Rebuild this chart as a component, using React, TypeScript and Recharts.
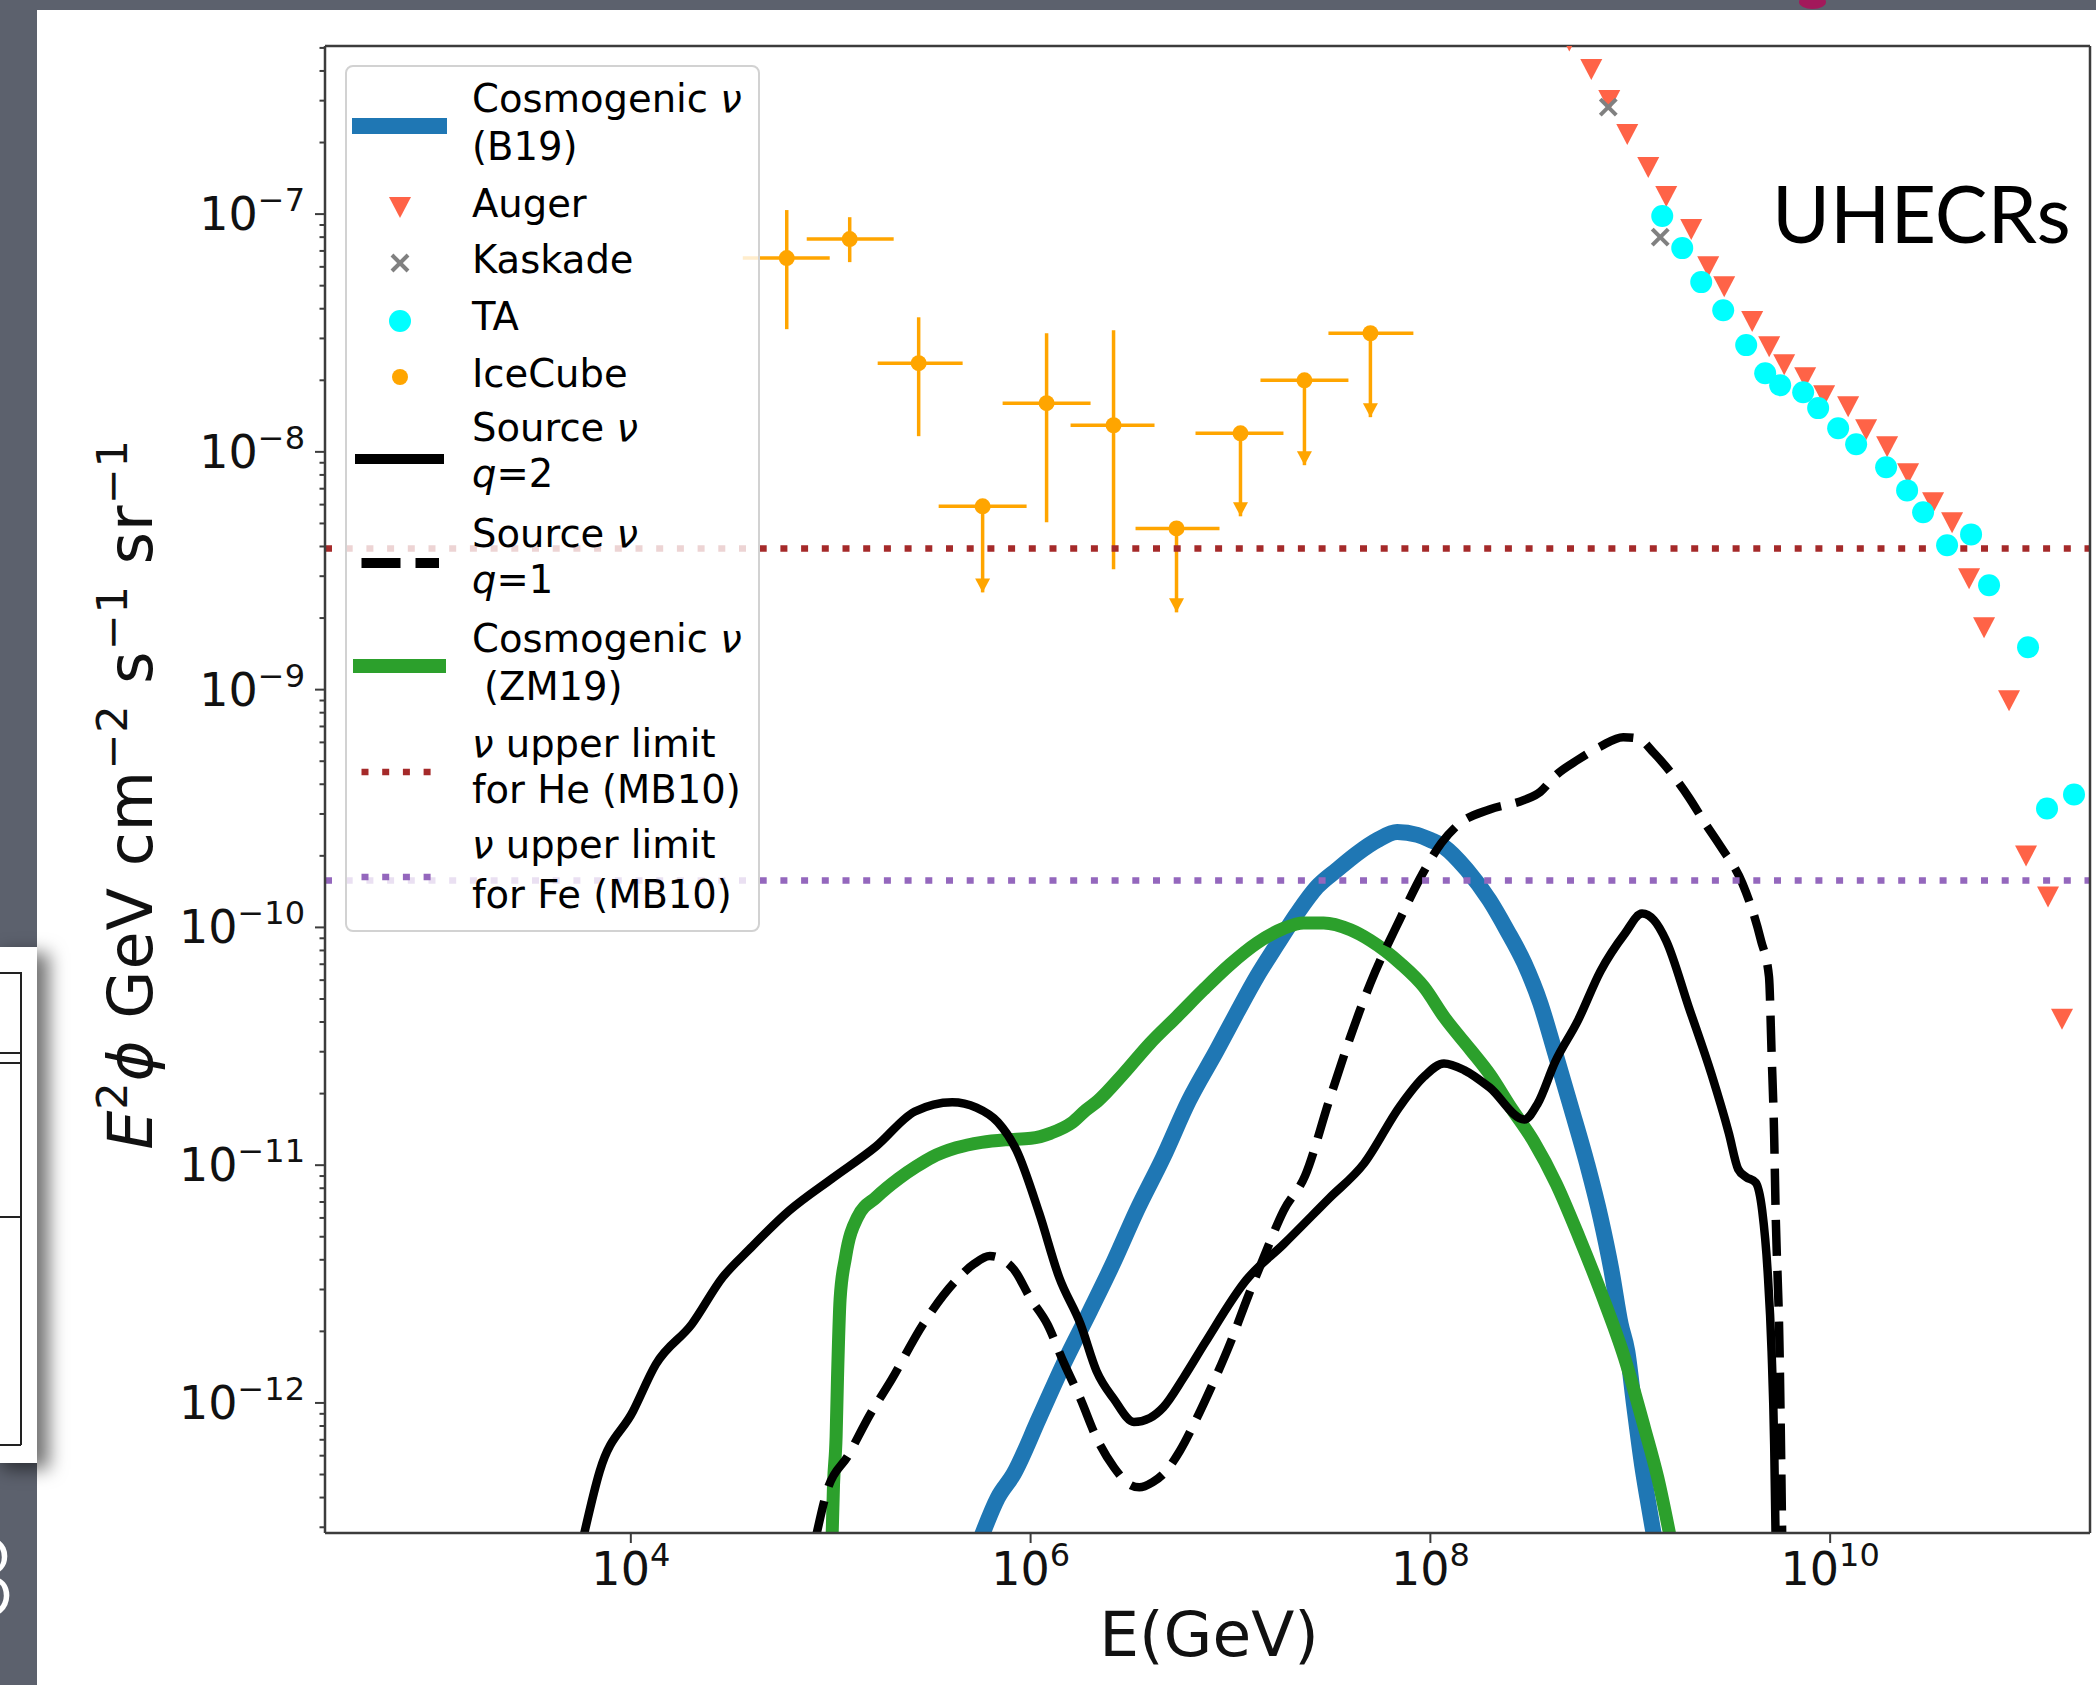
import React from "react";
import {
  ComposedChart,
  Line,
  Scatter,
  XAxis,
  YAxis,
  ErrorBar,
  ReferenceLine,
  Legend,
} from "recharts";

const FONT = "'DejaVu Sans', 'Liberation Sans', sans-serif";
const AXIS = "#3c3c3c";

// every value is a log10: x = log10(E / GeV), y = log10(E^2 phi / GeV cm^-2 s^-1 sr^-1)
const X_DOMAIN: [number, number] = [2.47, 11.3];
const Y_DOMAIN: [number, number] = [-12.547, -6.293];
const xTicks = [4, 6, 8, 10];
const yDecades = [-13, -12, -11, -10, -9, -8, -7];

const heLimit = -8.406; // nu upper limit for He (MB10)
const feLimit = -9.803; // nu upper limit for Fe (MB10)

const B19 = "#1f77b4";
const ZM19 = "#2ca02c";
const HE = "#a52a2a";
const FE = "#9467bd";
const AUGER = "#ff6347";
const TA = "#00ffff";
const ICECUBE = "#ffa500";
const KASKADE = "#808080";

// Cosmogenic nu (B19)
const cosmogenicB19: [number, number][] = [
  [5.755, -12.56], [5.835, -12.4], [5.915, -12.299], [6.043, -12.063], [6.17, -11.827],
  [6.297, -11.613], [6.417, -11.405], [6.531, -11.191], [6.664, -10.966], [6.791, -10.73],
  [6.932, -10.516], [7.032, -10.359], [7.132, -10.207], [7.233, -10.072], [7.333, -9.942],
  [7.433, -9.83], [7.534, -9.757], [7.634, -9.689], [7.734, -9.633], [7.834, -9.599],
  [7.935, -9.611], [8.002, -9.633], [8.068, -9.661], [8.182, -9.757], [8.296, -9.886],
  [8.382, -10.01], [8.47, -10.15], [8.55, -10.319], [8.624, -10.527], [8.704, -10.758],
  [8.784, -10.994], [8.851, -11.219], [8.905, -11.438], [8.952, -11.669], [8.985, -11.782],
  [9.019, -12.007], [9.059, -12.26], [9.086, -12.4], [9.119, -12.56],
];

// Cosmogenic nu (ZM19)
const cosmogenicZM19: [number, number][] = [
  [5.007, -12.56], [5.014, -12.344], [5.027, -12.141], [5.034, -11.894], [5.047, -11.562],
  [5.074, -11.388], [5.134, -11.219], [5.228, -11.135], [5.341, -11.056], [5.428, -11.006],
  [5.508, -10.966], [5.628, -10.927], [5.755, -10.904], [5.875, -10.893], [6.002, -10.887],
  [6.102, -10.865], [6.209, -10.82], [6.276, -10.769], [6.336, -10.73], [6.463, -10.617],
  [6.597, -10.488], [6.731, -10.376], [6.864, -10.263], [6.998, -10.156], [7.132, -10.066],
  [7.266, -10.004], [7.366, -9.981], [7.466, -9.981], [7.6, -10.01], [7.7, -10.055],
  [7.848, -10.15], [7.968, -10.251], [8.068, -10.376], [8.202, -10.516], [8.296, -10.617],
  [8.403, -10.758], [8.516, -10.899], [8.63, -11.079], [8.744, -11.303], [8.858, -11.545],
  [8.971, -11.81], [9.072, -12.108], [9.138, -12.316], [9.199, -12.56],
];

// Source nu, q=2
const sourceQ2: [number, number][] = [
  [3.764, -12.56], [3.844, -12.288], [4.011, -12.035], [4.125, -11.838], [4.305, -11.669],
  [4.459, -11.472], [4.593, -11.354], [4.793, -11.191], [5.007, -11.056], [5.227, -10.921],
  [5.421, -10.774], [5.608, -10.735], [5.729, -10.758], [5.836, -10.819], [5.929, -10.937],
  [6.043, -11.202], [6.143, -11.472], [6.25, -11.669], [6.33, -11.866], [6.417, -11.984],
  [6.517, -12.08], [6.597, -12.063], [6.664, -12.018], [6.765, -11.894], [6.872, -11.748],
  [7.079, -11.483], [7.266, -11.332], [7.493, -11.14], [7.667, -10.994], [7.848, -10.752],
  [7.968, -10.628], [8.068, -10.572], [8.169, -10.6], [8.296, -10.673], [8.47, -10.808],
  [8.537, -10.741], [8.624, -10.566], [8.738, -10.392], [8.851, -10.184], [8.972, -10.027],
  [9.059, -9.942], [9.119, -9.97], [9.179, -10.055], [9.293, -10.336], [9.406, -10.617],
  [9.493, -10.865], [9.54, -11.017], [9.58, -11.05], [9.627, -11.073], [9.66, -11.191],
  [9.687, -11.444], [9.707, -11.782], [9.72, -12.175], [9.727, -12.56],
];

// Source nu, q=1
const sourceQ1: [number, number][] = [
  [4.927, -12.56], [4.981, -12.372], [5.088, -12.22], [5.195, -12.051], [5.302, -11.905],
  [5.462, -11.669], [5.629, -11.483], [5.716, -11.416], [5.796, -11.382], [5.863, -11.399],
  [5.917, -11.439], [5.997, -11.557], [6.084, -11.669], [6.164, -11.827], [6.25, -11.984],
  [6.33, -12.147], [6.417, -12.271], [6.497, -12.344], [6.544, -12.355], [6.611, -12.333],
  [6.664, -12.299], [6.745, -12.204], [6.832, -12.063], [6.919, -11.905], [6.999, -11.748],
  [7.086, -11.556], [7.166, -11.388], [7.266, -11.191], [7.373, -11.045], [7.493, -10.73],
  [7.6, -10.46], [7.7, -10.235], [7.848, -9.965], [7.961, -9.774], [8.055, -9.645],
  [8.142, -9.566], [8.296, -9.504], [8.47, -9.464], [8.55, -9.43], [8.624, -9.363],
  [8.738, -9.295], [8.851, -9.239], [8.965, -9.2], [9.039, -9.205], [9.119, -9.267],
  [9.206, -9.352], [9.293, -9.453], [9.373, -9.56], [9.453, -9.661], [9.56, -9.813],
  [9.654, -10.055], [9.694, -10.207], [9.707, -10.528], [9.72, -10.882], [9.727, -11.186],
  [9.747, -11.782], [9.76, -12.56],
];

// Auger
const augerLogE = [
  8.695, 8.805, 8.895, 8.985, 9.09, 9.18, 9.305, 9.39, 9.47, 9.61, 9.695, 9.77, 9.875,
  9.97, 10.09, 10.18, 10.285, 10.39, 10.515, 10.61, 10.695, 10.77, 10.895, 10.98, 11.09, 11.16,
];
const augerLogF = [
  -6.27, -6.39, -6.52, -6.663, -6.802, -6.924, -7.063, -7.219, -7.303, -7.45, -7.556, -7.631,
  -7.686, -7.762, -7.808, -7.905, -7.976, -8.09, -8.212, -8.296, -8.532, -8.738, -9.045,
  -9.698, -9.87, -10.384,
];

// Kaskade
const kaskadeLogE = [8.89, 9.15];
const kaskadeLogF = [-6.55, -7.097];

// TA
const taLogE = [
  9.16, 9.26, 9.355, 9.465, 9.58, 9.675, 9.75, 9.865, 9.94, 10.04, 10.13, 10.28, 10.385,
  10.465, 10.585, 10.705, 10.795, 10.99, 11.085, 11.22,
];
const taLogF = [
  -7.008, -7.143, -7.286, -7.404, -7.551, -7.669, -7.72, -7.749, -7.816, -7.901, -7.968,
  -8.065, -8.162, -8.254, -8.393, -8.347, -8.561, -8.822, -9.5, -9.441,
];

// IceCube
const iceCubeLogE = [4.78, 5.095, 5.44, 5.76, 6.08, 6.415, 6.73, 7.05, 7.37, 7.7];
const iceCubeLogF = [-7.185, -7.105, -7.627, -8.229, -7.795, -7.888, -8.322, -7.922, -7.699, -7.501];
const iceCubeLogELow = [4.56, 4.88, 5.235, 5.54, 5.86, 6.2, 6.525, 6.825, 7.15, 7.49];
const iceCubeLogEHigh = [4.995, 5.315, 5.66, 5.98, 6.3, 6.62, 6.945, 7.265, 7.59, 7.915];
const iceCubeLogFLow = [-7.484, -7.202, -7.934, -8.591, -8.296, -8.494, -8.675, -8.271, -8.056, -7.854];
const iceCubeLogFHigh = [-6.983, -7.013, -7.434, -8.229, -7.501, -7.488, -8.322, -7.922, -7.699, -7.501];
const iceCubeUpperLimit = [false, false, false, true, false, false, true, true, true, true];

const toPoints = (pairs: [number, number][]) => pairs.map(([x, y]) => ({ x, y }));
const zip = (xs: number[], ys: number[]) => xs.map((x, i) => ({ x, y: ys[i] }));

const iceCube = iceCubeLogE.map((x, i) => ({
  x,
  y: iceCubeLogF[i],
  ex: [x - iceCubeLogELow[i], iceCubeLogEHigh[i] - x],
  ey: [iceCubeLogF[i] - iceCubeLogFLow[i], iceCubeLogFHigh[i] - iceCubeLogF[i]],
}));
const iceCubeArrows = iceCubeLogE
  .map((x, i) => ({ x, y: iceCubeLogFLow[i] }))
  .filter((_, i) => iceCubeUpperLimit[i]);

const yTicks = yDecades
  .flatMap((n) => [1, 2, 3, 4, 5, 6, 7, 8, 9].map((k) => n + Math.log10(k)))
  .filter((v) => v >= Y_DOMAIN[0] && v <= Y_DOMAIN[1]);

// marker shapes
const triangleDown = (cx: number, cy: number, fill: string) => (
  <path d={`M${cx - 11} ${cy - 10}L${cx + 11} ${cy - 10}L${cx} ${cy + 11}Z`} fill={fill} />
);
const crossMark = (cx: number, cy: number) => (
  <g stroke={KASKADE} strokeWidth={4}>
    <line x1={cx - 8} y1={cy - 8} x2={cx + 8} y2={cy + 8} />
    <line x1={cx - 8} y1={cy + 8} x2={cx + 8} y2={cy - 8} />
  </g>
);

function YTick({ x, y, payload }: any) {
  const v = payload.value;
  const major = Math.abs(v - Math.round(v)) < 1e-6;
  return (
    <g>
      <line x1={x - (major ? 10 : 5.5)} x2={x} y1={y} y2={y} stroke={AXIS} strokeWidth={2} />
      {major && (
        <text x={x - 20} y={y + 16} textAnchor="end" fontFamily={FONT} fontSize={46} fill="#111">
          10
          <tspan dy={-19} fontSize={32}>{`\u2212${Math.abs(Math.round(v))}`}</tspan>
        </text>
      )}
    </g>
  );
}

function XTick({ x, y, payload }: any) {
  return (
    <g>
      <line x1={x} x2={x} y1={y} y2={y + 10} stroke={AXIS} strokeWidth={2} />
      <text x={x} y={y + 52} textAnchor="middle" fontFamily={FONT} fontSize={46} fill="#111">
        10
        <tspan dy={-19} fontSize={32}>{payload.value}</tspan>
      </text>
    </g>
  );
}

function YLabel({ viewBox }: any) {
  const cy = viewBox.y + viewBox.height / 2 + 5;
  const sup = { dy: -25, fontSize: 43 };
  const back = { dy: 25 };
  return (
    <text
      transform={`translate(152, ${cy}) rotate(-90)`}
      textAnchor="middle"
      fontFamily={FONT}
      fontSize={62}
      letterSpacing={1}
      fill="#111"
    >
      <tspan fontStyle="italic">E</tspan>
      <tspan {...sup}>2</tspan>
      <tspan {...back} fontStyle="italic">ϕ</tspan>
      <tspan> GeV cm</tspan>
      <tspan {...sup}>{"\u22122"}</tspan>
      <tspan {...back}> s</tspan>
      <tspan {...sup}>{"\u22121"}</tspan>
      <tspan {...back}> sr</tspan>
      <tspan {...sup}>{"\u22121"}</tspan>
    </text>
  );
}

function XLabel({ viewBox }: any) {
  return (
    <text
      x={viewBox.x + viewBox.width / 2 + 1.5}
      y={1656}
      textAnchor="middle"
      fontFamily={FONT}
      fontSize={63}
      fill="#111"
    >
      E(GeV)
    </text>
  );
}

const LEGEND_W = 415;
const LEGEND_H = 867;

function LegendBox() {
  const tx = 127;
  const nu = <tspan fontStyle="italic">ν</tspan>;
  const lines: [number, React.ReactNode, number?][] = [
    [47, <>Cosmogenic {nu}</>],
    [95, "(B19)"],
    [152, "Auger"],
    [208, "Kaskade"],
    [265, "TA"],
    [322, "IceCube"],
    [376, <>Source {nu}</>],
    [422, <><tspan fontStyle="italic">q</tspan>=2</>],
    [482, <>Source {nu}</>],
    [528, <><tspan fontStyle="italic">q</tspan>=1</>],
    [587, <>Cosmogenic {nu}</>],
    [635, "(ZM19)", 12],
    [692, <>{nu} upper limit</>],
    [738, "for He (MB10)"],
    [793, <>{nu} upper limit</>],
    [843, "for Fe (MB10)"],
  ];
  return (
    <svg width={LEGEND_W} height={LEGEND_H} style={{ display: "block", overflow: "visible" }}>
      <rect
        x={1}
        y={1}
        width={LEGEND_W - 2}
        height={LEGEND_H - 2}
        rx={7}
        fill="rgba(255,255,255,0.8)"
        stroke="#d2d2d2"
        strokeWidth={2}
      />
      <line x1={15} x2={94} y1={61} y2={61} stroke={B19} strokeWidth={16} strokeLinecap="square" />
      {triangleDown(55, 142, AUGER)}
      {crossMark(55, 198)}
      <circle cx={55} cy={256} r={11} fill={TA} />
      <circle cx={55} cy={312} r={8} fill={ICECUBE} />
      <line x1={15} x2={94} y1={394} y2={394} stroke="#000" strokeWidth={10} strokeLinecap="square" />
      <line x1={16.5} x2={94} y1={498} y2={498} stroke="#000" strokeWidth={10} strokeDasharray="39 15" />
      <line x1={15} x2={94} y1={601} y2={601} stroke={ZM19} strokeWidth={14} strokeLinecap="square" />
      <line x1={16.5} x2={94} y1={707} y2={707} stroke={HE} strokeWidth={6.5} strokeDasharray="7 13.7" />
      <line x1={16.5} x2={94} y1={812} y2={812} stroke={FE} strokeWidth={6.5} strokeDasharray="7 13.7" />
      {lines.map(([y, t, dx], i) => (
        <text key={i} x={tx + (dx || 0)} y={y} fontFamily={FONT} fontSize={38.5} fill="#000">
          {t}
        </text>
      ))}
    </svg>
  );
}

export default function App() {
  return (
    <div
      style={{
        position: "relative",
        width: 2096,
        height: 1685,
        overflow: "hidden",
        background: "#5c616d",
      }}
    >
      <style>{"body{margin:0}"}</style>
      {/* slide canvas */}
      <div style={{ position: "absolute", left: 37, top: 10, right: 0, bottom: 0, background: "#fff" }} />
      <div
        style={{
          position: "absolute",
          left: 1799,
          top: -5,
          width: 27,
          height: 14,
          borderRadius: "50%",
          background: "#a3195b",
        }}
      />
      {/* neighbouring slide card peeking in on the left */}
      <div
        style={{
          position: "absolute",
          left: -10,
          top: 947,
          width: 47,
          height: 516,
          background: "#fff",
          boxShadow: "12px 6px 18px rgba(0,0,0,0.55)",
        }}
      >
        <div style={{ position: "absolute", left: 30, top: 25, width: 1.5, height: 473, background: "#222" }} />
        {[25, 105, 115, 269, 497].map((t) => (
          <div key={t} style={{ position: "absolute", left: 0, top: t, width: 31, height: 1.5, background: "#222" }} />
        ))}
      </div>

      <div style={{ position: "absolute", left: 0, top: 0 }}>
        <ComposedChart width={2096} height={1685} margin={{ top: 46, right: 6, bottom: 0, left: 0 }}>
          <XAxis
            type="number"
            dataKey="x"
            domain={X_DOMAIN}
            allowDataOverflow
            ticks={xTicks}
            interval={0}
            height={152}
            tickSize={0}
            tickMargin={0}
            tickLine={false}
            tick={<XTick />}
            axisLine={{ stroke: AXIS, strokeWidth: 2.5 }}
            label={<XLabel />}
          />
          <YAxis
            type="number"
            dataKey="y"
            domain={Y_DOMAIN}
            allowDataOverflow
            ticks={yTicks}
            interval={0}
            width={325}
            tickSize={0}
            tickMargin={0}
            tickLine={false}
            tick={<YTick />}
            axisLine={{ stroke: AXIS, strokeWidth: 2.5 }}
            label={<YLabel />}
          />

          <Line
            data={toPoints(cosmogenicB19)}
            dataKey="y"
            type="monotoneX"
            stroke={B19}
            strokeWidth={16}
            dot={false}
            activeDot={false}
            isAnimationActive={false}
          />
          <Line
            data={toPoints(cosmogenicZM19)}
            dataKey="y"
            type="monotoneX"
            stroke={ZM19}
            strokeWidth={13}
            dot={false}
            activeDot={false}
            isAnimationActive={false}
          />
          <Line
            data={toPoints(sourceQ2)}
            dataKey="y"
            type="monotoneX"
            stroke="#000"
            strokeWidth={8.5}
            strokeLinejoin="round"
            dot={false}
            activeDot={false}
            isAnimationActive={false}
          />
          <Line
            data={toPoints(sourceQ1)}
            dataKey="y"
            type="monotoneX"
            stroke="#000"
            strokeWidth={8.5}
            strokeDasharray="36 15"
            dot={false}
            activeDot={false}
            isAnimationActive={false}
          />

          <Scatter
            data={zip(augerLogE, augerLogF)}
            isAnimationActive={false}
            shape={(p: any) => triangleDown(p.cx, p.cy, AUGER)}
          />
          <Scatter
            data={zip(kaskadeLogE, kaskadeLogF)}
            isAnimationActive={false}
            shape={(p: any) => crossMark(p.cx, p.cy)}
          />
          <Scatter
            data={zip(taLogE, taLogF)}
            isAnimationActive={false}
            shape={(p: any) => <circle cx={p.cx} cy={p.cy} r={11} fill={TA} />}
          />
          <Scatter
            data={iceCube}
            isAnimationActive={false}
            shape={(p: any) => <circle cx={p.cx} cy={p.cy} r={8} fill={ICECUBE} />}
          >
            <ErrorBar dataKey="ex" direction="x" width={0} stroke={ICECUBE} strokeWidth={3.5} isAnimationActive={false} />
            <ErrorBar dataKey="ey" direction="y" width={0} stroke={ICECUBE} strokeWidth={3.5} isAnimationActive={false} />
          </Scatter>
          <Scatter
            data={iceCubeArrows}
            isAnimationActive={false}
            shape={(p: any) => (
              <path d={`M${p.cx - 7.5} ${p.cy - 14}L${p.cx + 7.5} ${p.cy - 14}L${p.cx} ${p.cy}Z`} fill={ICECUBE} />
            )}
          />

          <ReferenceLine y={heLimit} stroke={HE} strokeWidth={6.5} strokeDasharray="7 13.7" />
          <ReferenceLine y={feLimit} stroke={FE} strokeWidth={6.5} strokeDasharray="7 13.7" />
          <ReferenceLine y={Y_DOMAIN[1]} stroke={AXIS} strokeWidth={2.5} />
          <ReferenceLine x={X_DOMAIN[1]} stroke={AXIS} strokeWidth={2.5} />

          <Legend
            layout="vertical"
            align="center"
            verticalAlign="middle"
            wrapperStyle={{ left: 345, top: 65, width: LEGEND_W, height: LEGEND_H }}
            content={() => <LegendBox />}
          />
        </ComposedChart>
      </div>

      <svg
        width={2096}
        height={1685}
        style={{ position: "absolute", left: 0, top: 0, pointerEvents: "none" }}
      >
        <text x={1772} y={243} fontFamily="Lato, 'Open Sans', sans-serif" fontWeight={400} fontSize={79} fill="#000">
          UHECRs
        </text>
        <text x={17} y={1618} textAnchor="end" fontFamily="Lato, sans-serif" fontWeight={300} fontSize={115} fill="#fff">
          3
        </text>
      </svg>
    </div>
  );
}
